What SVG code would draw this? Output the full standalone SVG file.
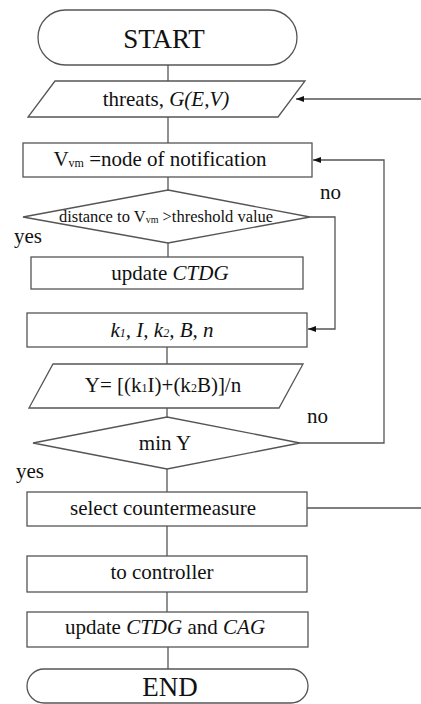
<svg xmlns="http://www.w3.org/2000/svg" width="421" height="704" viewBox="0 0 421 704">
<style>
.s{fill:#fff;stroke:#555;stroke-width:1.3}
.c{fill:none;stroke:#555;stroke-width:1.3}
text{font-family:"Liberation Serif","Times New Roman",serif;fill:#111;text-anchor:middle}
.t{font-size:21px}
.l{font-size:21px;text-anchor:start}
.i{font-style:italic}
</style>
<defs>
<marker id="ah" markerWidth="8" markerHeight="6" refX="8" refY="3" orient="auto" markerUnits="userSpaceOnUse">
<path d="M0,0 L8,3 L0,6 Z" fill="#111"/>
</marker>
</defs>
<rect width="421" height="704" fill="#fff"/>
<g id="connectors">
<line class="c" x1="168" y1="65" x2="168" y2="81"/>
<line class="c" x1="168" y1="117" x2="168" y2="143"/>
<line class="c" x1="168" y1="177" x2="168" y2="190"/>
<line class="c" x1="168" y1="243" x2="168" y2="257"/>
<line class="c" x1="167" y1="347" x2="167" y2="364"/>
<line class="c" x1="167" y1="408" x2="167" y2="417"/>
<line class="c" x1="167" y1="469" x2="167" y2="492"/>
<line class="c" x1="167" y1="526" x2="167" y2="556"/>
<line class="c" x1="167" y1="592" x2="167" y2="612"/>
<line class="c" x1="168" y1="647" x2="168" y2="669"/>
<line class="c" x1="421" y1="99" x2="296" y2="99" marker-end="url(#ah)"/>
<polyline class="c" points="300,443 384,443 384,160 313,160" marker-end="url(#ah)"/>
<polyline class="c" points="310,217 335,217 335,329 308,329" marker-end="url(#ah)"/>
<line class="c" x1="307" y1="508" x2="421" y2="508"/>
</g>
<g id="start">
<rect class="s" x="38" y="10" width="259" height="55" rx="27.5"/>
<text x="164" y="48" style="font-size:27px">START</text>
</g>
<g id="threats">
<polygon class="s" points="55,81 305,81 278,117 28,117"/>
<text class="t" x="166" y="106">threats, <tspan class="i">G(E,V)</tspan></text>
</g>
<g id="vm">
<rect class="s" x="23" y="143" width="289" height="34"/>
<text class="t" x="160" y="166">V<tspan style="font-size:12px" dy="1">vm</tspan><tspan dy="-1"> =node of notification</tspan></text>
</g>
<g id="distance">
<polygon class="s" points="168,190 310,217 168,243 23,217"/>
<text x="166" y="222" style="font-size:16.5px">distance to V<tspan style="font-size:10px" dy="1">vm</tspan><tspan dy="-1"> &gt;threshold value</tspan></text>
<text class="l" x="320" y="199">no</text>
<text class="l" x="14" y="243">yes</text>
</g>
<g id="updateCTDG">
<rect class="s" x="31" y="257" width="272" height="32"/>
<text class="t" x="170" y="280">update <tspan class="i">CTDG</tspan></text>
</g>
<g id="params">
<rect class="s" x="27" y="313" width="280" height="34"/>
<text class="t i" x="162" y="337">k<tspan style="font-size:12px">1</tspan>, I, k<tspan style="font-size:12px">2</tspan>, B, n</text>
</g>
<g id="formula">
<polygon class="s" points="53,364 303,364 279,408 29,408"/>
<text class="t" x="163" y="392">Y= [(k<tspan style="font-size:12px">1</tspan>I)+(k<tspan style="font-size:12px">2</tspan>B)]/n</text>
</g>
<g id="minY">
<polygon class="s" points="167,417 300,443 167,469 33,443"/>
<text class="t" x="165" y="450">min Y</text>
<text class="l" x="307" y="423">no</text>
<text class="l" x="16" y="478">yes</text>
</g>
<g id="select">
<rect class="s" x="27" y="492" width="280" height="34"/>
<text class="t" x="163" y="515">select countermeasure</text>
</g>
<g id="controller">
<rect class="s" x="27" y="556" width="280" height="36"/>
<text class="t" x="162" y="579">to controller</text>
</g>
<g id="updateBoth">
<rect class="s" x="27" y="612" width="281" height="35"/>
<text class="t" x="165" y="634">update <tspan class="i">CTDG</tspan> and <tspan class="i">CAG</tspan></text>
</g>
<g id="end">
<rect class="s" x="27" y="669" width="281" height="34" rx="17"/>
<text x="170" y="696" style="font-size:27px">END</text>
</g>
</svg>
